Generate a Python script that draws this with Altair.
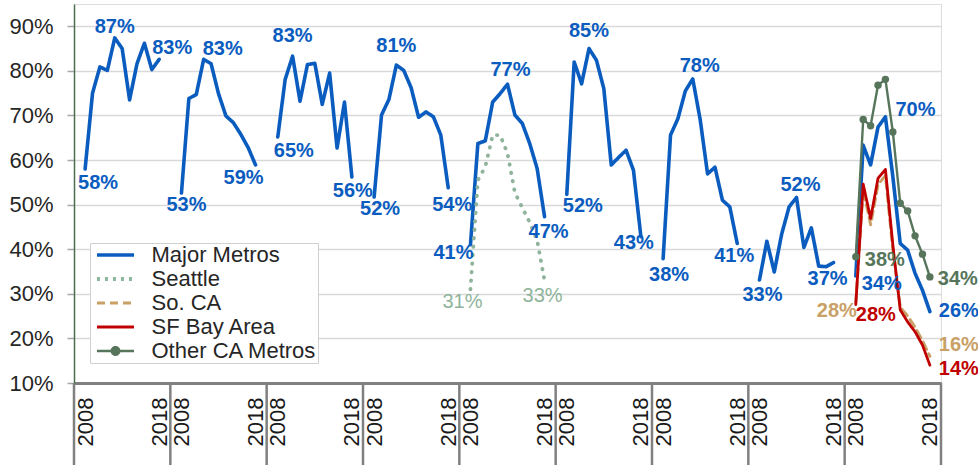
import altair as alt
import pandas as pd

# ---------------- data ----------------
SERIES = ["Major Metros", "Seattle", "So. CA", "SF Bay Area", "Other CA Metros"]
YEARS = list(range(2008, 2019))
N_GROUPS = 9
SLOTS = 13  # one empty slot, eleven years, one empty slot per group

MAJOR_METROS = [
    [58.0, 75.0, 80.9, 80.1, 87.4, 85.0, 73.5, 81.6, 86.2, 80.3, 82.6],
    [52.6, 73.8, 74.7, 82.6, 81.6, 74.9, 69.9, 68.4, 65.8, 62.8, 58.9],
    [65.2, 78.1, 83.3, 73.2, 81.4, 81.7, 72.5, 79.5, 62.7, 73.0, 56.2],
    [51.7, 70.1, 73.6, 81.3, 80.1, 76.2, 69.6, 70.8, 69.7, 65.6, 53.8],
    [41.0, 63.7, 64.3, 73.0, 74.9, 77.0, 70.1, 68.2, 63.7, 58.1, 47.3],
    [52.3, 82.0, 77.1, 85.0, 82.4, 76.0, 58.9, 60.6, 62.2, 57.7, 42.8],
    [37.9, 65.6, 69.3, 75.5, 78.2, 69.1, 56.9, 58.4, 51.0, 49.5, 41.3],
    [33.1, 41.8, 34.9, 43.4, 49.5, 51.6, 40.4, 44.8, 36.2, 36.1, 37.0],
    [34.0, 63.3, 58.9, 67.4, 69.7, 56.3, 41.3, 39.8, 34.6, 30.8, 26.0],
]
SEATTLE_GROUP = 4
SEATTLE = [31.0, 55.5, 58.5, 65.6, 65.6, 61.5, 52.7, 49.3, 46.0, 42.0, 33.0]
CA_GROUP = 8
SO_CA = [28.0, 53.5, 45.5, 54.5, 56.5, 40.0, 27.0, 25.0, 22.5, 19.5, 16.0]
SF_BAY = [27.6, 54.6, 46.9, 55.9, 57.9, 41.0, 26.4, 23.7, 21.5, 18.5, 14.0]
OTHER_CA = [38.3, 69.1, 67.7, 76.8, 78.1, 66.3, 50.3, 48.6, 43.0, 38.9, 33.8]

Y_TICKS = [10, 20, 30, 40, 50, 60, 70, 80, 90]

# labelled points: (series, group, year index)
LABELLED = [
    ("Major Metros", 0, 0), ("Major Metros", 0, 4), ("Major Metros", 0, 10),
    ("Major Metros", 1, 0), ("Major Metros", 1, 3), ("Major Metros", 1, 10),
    ("Major Metros", 2, 0), ("Major Metros", 2, 2), ("Major Metros", 2, 10),
    ("Major Metros", 3, 0), ("Major Metros", 3, 3), ("Major Metros", 3, 10),
    ("Major Metros", 4, 0), ("Major Metros", 4, 5), ("Major Metros", 4, 10),
    ("Major Metros", 5, 0), ("Major Metros", 5, 3), ("Major Metros", 5, 10),
    ("Major Metros", 6, 0), ("Major Metros", 6, 4), ("Major Metros", 6, 10),
    ("Major Metros", 7, 0), ("Major Metros", 7, 5), ("Major Metros", 7, 10),
    ("Major Metros", 8, 0), ("Major Metros", 8, 4), ("Major Metros", 8, 10),
    ("Seattle", 4, 0), ("Seattle", 4, 10),
    ("So. CA", 8, 0), ("So. CA", 8, 10),
    ("SF Bay Area", 8, 0), ("SF Bay Area", 8, 10),
    ("Other CA Metros", 8, 0), ("Other CA Metros", 8, 10),
]

# ---------------- styles ----------------
FONT = "Liberation Sans"
W, H = 867, 379
COLORS = {
    "Major Metros": "#0a5cbf",
    "Seattle": "#8fb49b",
    "So. CA": "#c9a066",
    "SF Bay Area": "#c00000",
    "Other CA Metros": "#56755b",
}
WIDTHS = {"Major Metros": 3.6, "Seattle": 3.8, "So. CA": 3.0,
          "SF Bay Area": 2.8, "Other CA Metros": 2.4}
DASHES = {"Major Metros": [1, 0], "Seattle": [0.5, 8], "So. CA": [8, 5],
          "SF Bay Area": [1, 0], "Other CA Metros": [1, 0]}
LEGEND_DASHES = {**DASHES, "Seattle": [3, 5]}
LABEL_WEIGHT = {"Seattle": "normal"}
# label offsets (dx, dy) in pixels, same order as LABELLED
LABEL_OFFSETS = [
    (13, 14), (0, -11), (13, -11),
    (5, 12), (19, -10), (-12, 13),
    (16, 14), (0, -20), (1, 14),
    (6, 12), (0, -19), (4, 17),
    (-17, 8), (3, -14), (4, 15),
    (16, 12), (0, -18), (-7, 6),
    (6, 16), (7, -13), (-3, 13),
    (3, 15), (4, -13), (-6, 16),
    (26, 8), (30, -7), (29, -1),
    (-8, 13), (-2, 16),
    (-19, 8), (29, -11),
    (20, 10), (29, 4),
    (29, 3), (28, 2),
]

# ---------------- table ----------------
rows = []


def add(series, group, values):
    for k, v in enumerate(values):
        rows.append({"series": series, "group": group, "year": YEARS[k], "k": k,
                     "x": group * SLOTS + 1 + k + 0.5, "value": v,
                     "label": f"{round(v):d}%"})


for g, vals in enumerate(MAJOR_METROS):
    add("Major Metros", g, vals)
add("Seattle", SEATTLE_GROUP, SEATTLE)
add("So. CA", CA_GROUP, SO_CA)
add("SF Bay Area", CA_GROUP, SF_BAY)
add("Other CA Metros", CA_GROUP, OTHER_CA)
df = pd.DataFrame(rows)

bounds = pd.DataFrame({"b": [g * SLOTS for g in range(N_GROUPS + 1)]})

xscale = alt.Scale(domain=[0, N_GROUPS * SLOTS], nice=False, zero=False)
yscale = alt.Scale(domain=[10, 95], nice=False, zero=False)

tick_vals = []
for g in range(N_GROUPS):
    tick_vals += [g * SLOTS + 1.5, g * SLOTS + len(YEARS) + 0.5]

xaxis = alt.Axis(
    values=tick_vals,
    labelExpr=f"(datum.value % {SLOTS}) < {SLOTS / 2} ? '{YEARS[0]}' : '{YEARS[-1]}'",
    labelAngle=270, labelAlign="right", labelBaseline="middle",
    labelFont=FONT, labelFontSize=22, labelColor="#1a1a1a", labelPadding=14,
    ticks=False, grid=False, domainColor="#808080", domainWidth=3,
    labelOverlap=False, labelFlush=False, labelBound=False, title=None,
)
yaxis = alt.Axis(
    values=Y_TICKS, labelExpr="datum.value + '%'",
    labelFont=FONT, labelFontSize=22, labelColor="#262626", labelPadding=14,
    tickSize=7, tickColor="#a6a6a6", tickWidth=1.5,
    domainColor="#4b6e51", domainWidth=1.5,
    gridColor="#d9d9d9", gridWidth=1.5, title=None,
)


def js_map(d, default):
    expr = default
    for k, v in d.items():
        expr = f"datum.value === '{k}' ? {v} : ({expr})"
    return expr


dash_expr = js_map({k: str(v) for k, v in LEGEND_DASHES.items()}, "[1, 0]")
width_expr = js_map({k: str(v) for k, v in WIDTHS.items()}, "3")
dot = "M-2.06,0L2.06,0M0.42,0A0.42,0.42,0,1,1,-0.42,0A0.42,0.42,0,1,1,0.42,0"
shape_expr = f"datum.value === 'Other CA Metros' ? '{dot}' : 'M-2.06,0L2.06,0'"
fill_expr = f"datum.value === 'Other CA Metros' ? '{COLORS['Other CA Metros']}' : 'transparent'"

legend = alt.Legend(
    title=None, orient="none", legendX=16, legendY=239,
    fillColor="white", strokeColor="#d0d0d0", padding=1,
    labelFont=FONT, labelFontSize=22, labelColor="#262626", labelLimit=400,
    symbolSize=324, symbolOffset=13.5, labelOffset=25, rowPadding=2,
    symbolType={"expr": shape_expr},
    symbolDash={"expr": dash_expr},
    symbolStrokeWidth={"expr": width_expr},
    symbolFillColor={"expr": fill_expr},
)

color = alt.Color("series:N",
                  scale=alt.Scale(domain=SERIES, range=[COLORS[s] for s in SERIES]),
                  legend=legend)

layers = [
    alt.Chart(bounds).mark_rule(color="#808080", strokeWidth=2.5).encode(
        x=alt.X("b:Q", scale=xscale, axis=xaxis),
        y=alt.value(H), y2=alt.value(H + 82),
    )
]

for s in SERIES:
    layers.append(
        alt.Chart(df).transform_filter(alt.datum.series == s).mark_line(
            strokeWidth=WIDTHS[s], strokeDash=DASHES[s],
            strokeCap="round", strokeJoin="round",
        ).encode(
            x=alt.X("x:Q", scale=xscale, axis=xaxis),
            y=alt.Y("value:Q", scale=yscale, axis=yaxis),
            color=color,
            detail="group:N",
            order="k:Q",
        )
    )

layers.append(
    alt.Chart(df).transform_filter(alt.datum.series == "Other CA Metros").mark_point(
        filled=True, size=55, opacity=1, color=COLORS["Other CA Metros"]
    ).encode(
        x=alt.X("x:Q", scale=xscale),
        y=alt.Y("value:Q", scale=yscale),
    )
)

for (s, g, k), (dx, dy) in zip(LABELLED, LABEL_OFFSETS):
    layers.append(
        alt.Chart(df).transform_filter(
            (alt.datum.series == s) & (alt.datum.group == g) & (alt.datum.k == k)
        ).mark_text(
            font=FONT, fontSize=20, fontWeight=LABEL_WEIGHT.get(s, "bold"),
            color=COLORS[s], align="center", baseline="middle", dx=dx, dy=dy,
        ).encode(
            x=alt.X("x:Q", scale=xscale),
            y=alt.Y("value:Q", scale=yscale),
            text="label:N",
        )
    )

chart = alt.layer(*layers).properties(
    width=W, height=H,
    padding={"left": 74, "top": 4, "right": 37, "bottom": 82},
    autosize=alt.AutoSizeParams(type="none"),
).configure_view(stroke=None).configure(font=FONT)

chart.save("out.html", embed_options={"renderer": "svg", "actions": False})
